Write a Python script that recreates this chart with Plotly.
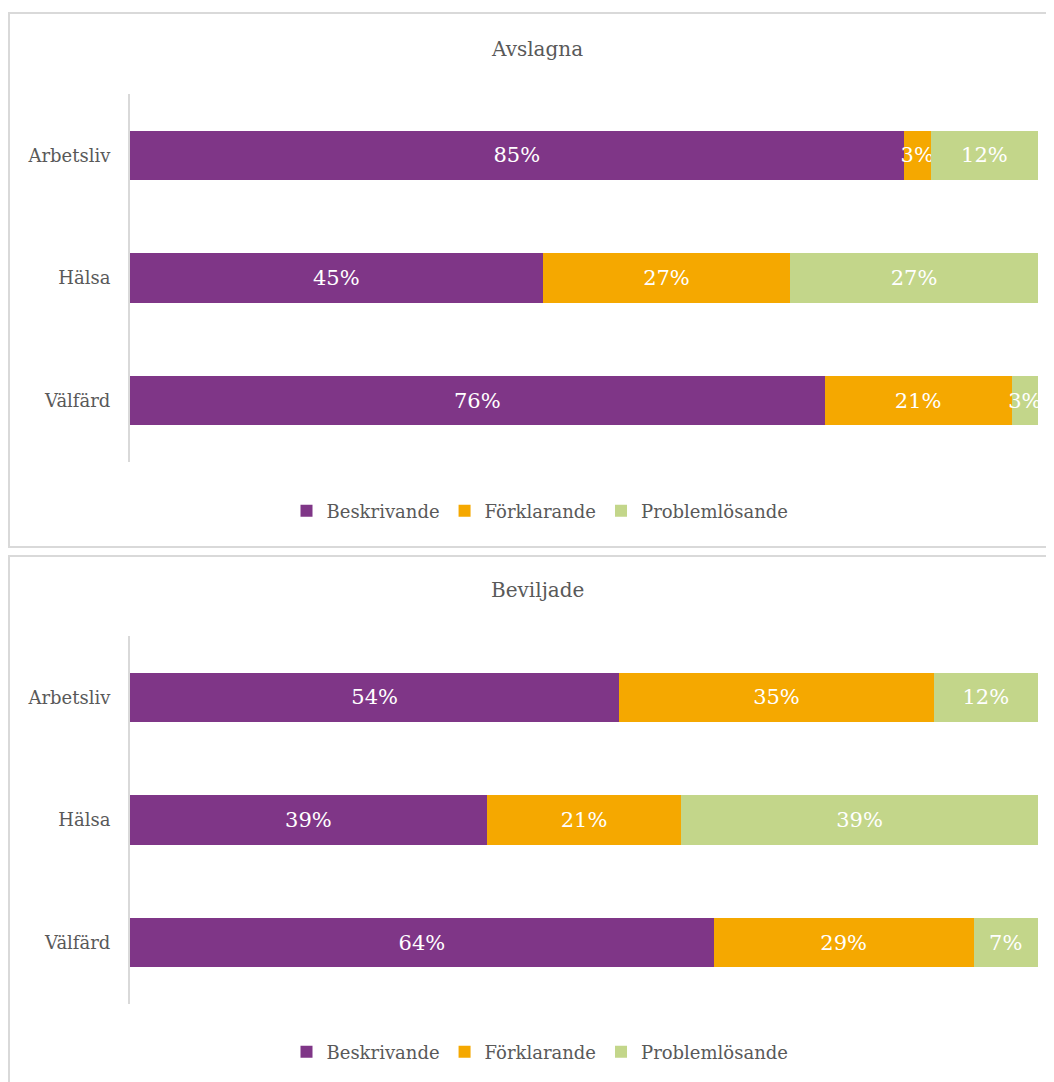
from plotly import graph_objects as go
from plotly.subplots import make_subplots


categories = ["Arbetsliv", "Hälsa", "Välfärd"]
series_names = ["Beskrivande", "Förklarande", "Problemlösande"]
colors = ["#7F3687", "#F5A800", "#C3D68A"]

# andelar i procent, per kategori
avslagna_beskrivande = [85.2, 45.45, 76.5]
avslagna_forklarande = [3.0, 27.27, 20.6]
avslagna_problemlosande = [11.8, 27.27, 2.9]

beviljade_beskrivande = [53.9, 39.3, 64.3]
beviljade_forklarande = [34.6, 21.4, 28.6]
beviljade_problemlosande = [11.5, 39.3, 7.1]

panel_titles = ["Avslagna", "Beviljade"]

FONT = "Georgia, 'DejaVu Serif', serif"
GREY = "#595959"
LINE = "#D9D9D9"
W, H = 1054, 1082
OFF = 8  # body margin of the html page


def px_x(x):
    return (x - OFF) / W


def px_y(y):
    return 1 - (y - OFF) / H


def add_panel(fig, row, values, legend_name):
    """Stacked horizontal bars for one panel."""
    for name, vals, color in zip(series_names, values, colors):
        fig.add_trace(
            go.Bar(
                y=categories,
                x=vals,
                name=name,
                orientation="h",
                marker=dict(color=color, line=dict(width=0)),
                text=[f"{v:.0f}%" for v in vals],
                textposition="inside",
                insidetextanchor="middle",
                textangle=0,
                textfont=dict(color="white", family=FONT, size=21),
                legend=legend_name,
                cliponaxis=False,
            ),
            row=row,
            col=1,
        )


fig = make_subplots(rows=2, cols=1)

add_panel(fig, 1, [avslagna_beskrivande, avslagna_forklarande, avslagna_problemlosande], "legend")
add_panel(fig, 2, [beviljade_beskrivande, beviljade_forklarande, beviljade_problemlosande], "legend2")

xdom = [px_x(130), px_x(1038)]
fig.update_xaxes(range=[0, 100], visible=False, domain=xdom, fixedrange=True)
fig.update_yaxes(
    categoryorder="array",
    categoryarray=categories[::-1],
    showline=True,
    linecolor=LINE,
    linewidth=2,
    showgrid=False,
    ticks="",
    ticklabelstandoff=14,
    tickfont=dict(family=FONT, size=18, color=GREY),
)
fig.update_layout(
    yaxis=dict(domain=[px_y(462), px_y(94)]),
    yaxis2=dict(domain=[px_y(1004), px_y(636)]),
)

annotations = []
for title, y in zip(panel_titles, [49, 590]):
    annotations.append(
        dict(
            text=title,
            x=px_x(537),
            y=px_y(y),
            xref="paper",
            yref="paper",
            xanchor="center",
            yanchor="middle",
            showarrow=False,
            font=dict(family=FONT, size=20, color=GREY),
        )
    )

shapes = [
    dict(type="rect", xref="paper", yref="paper", x0=px_x(9), x1=1.01, y0=px_y(547), y1=px_y(13),
         line=dict(color=LINE, width=2)),
    dict(type="rect", xref="paper", yref="paper", x0=px_x(9), x1=1.01, y0=-0.01, y1=px_y(556),
         line=dict(color=LINE, width=2)),
]

legend_style = dict(
    orientation="h",
    xanchor="center",
    x=px_x(540),
    yanchor="middle",
    font=dict(family=FONT, size=18, color=GREY),
    itemwidth=30,
    traceorder="normal",
)

fig.update_layout(
    width=W,
    height=H,
    margin=dict(l=0, r=0, t=0, b=0),
    paper_bgcolor="white",
    plot_bgcolor="white",
    barmode="stack",
    bargap=0.6,
    uniformtext=dict(minsize=21, mode="show"),
    annotations=annotations,
    shapes=shapes,
    legend=dict(y=px_y(511), **legend_style),
    legend2=dict(y=px_y(1052), **legend_style),
)

fig.write_html("out.html")
